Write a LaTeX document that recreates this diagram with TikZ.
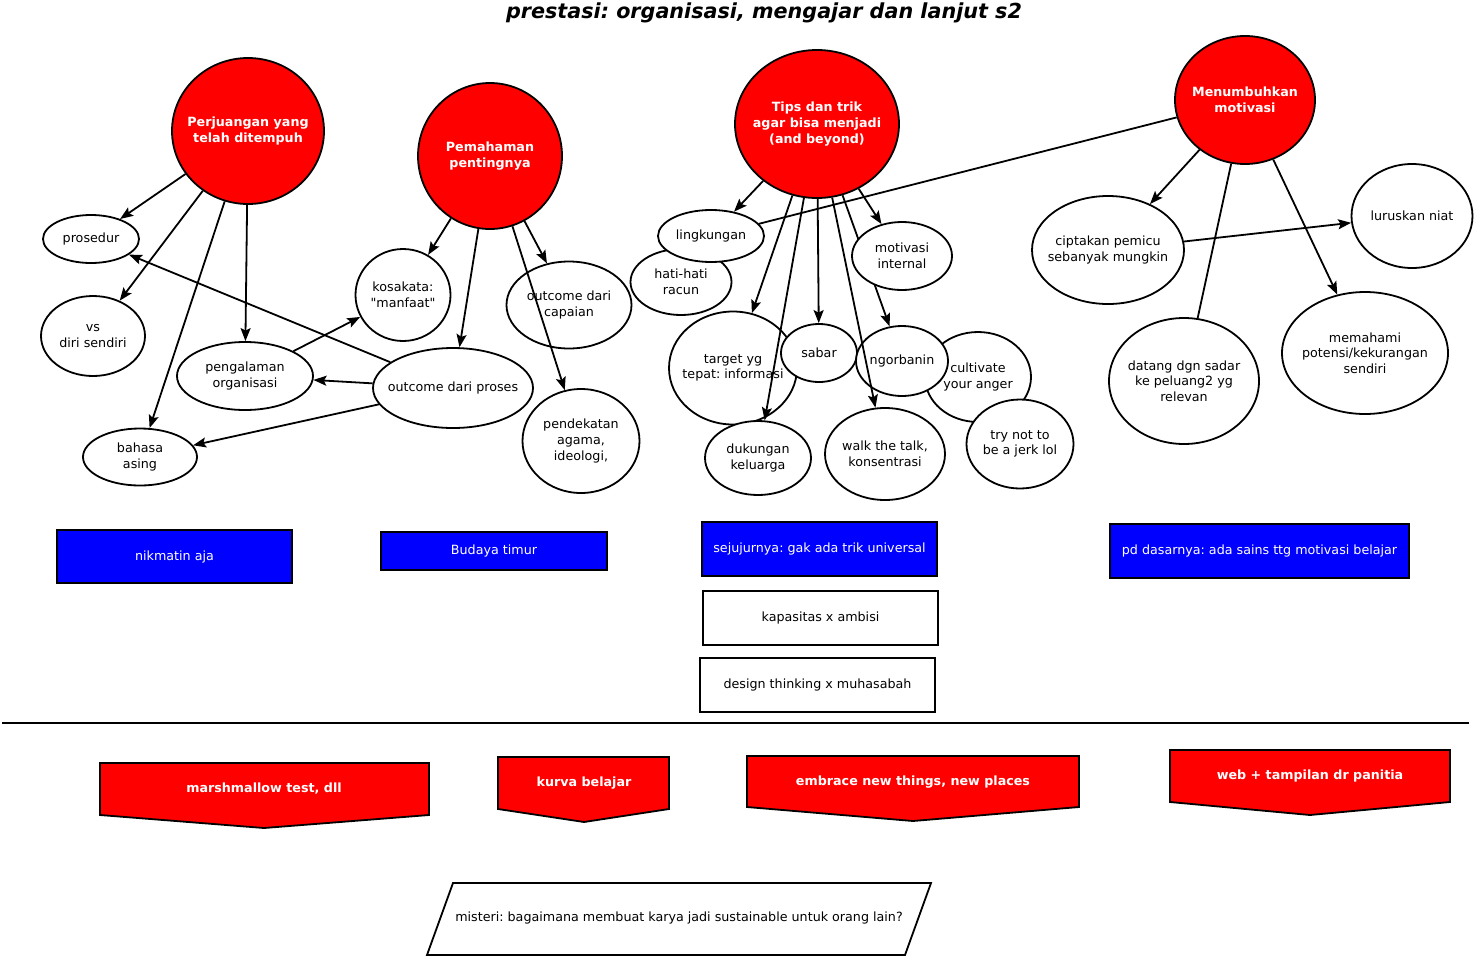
\documentclass[tikz,border=0pt]{standalone}
\usepackage{fontspec}
\setmainfont{DejaVu Sans}
\newfontfamily\qfont{DejaVu Sans}
\usetikzlibrary{shapes.geometric,arrows.meta}
\pgfdeclarelayer{bg}
\pgfsetlayers{bg,main}
\frenchspacing
\begin{document}
\frenchspacing
\begin{tikzpicture}[x=1pt,y=-1pt,
  every node/.style={font=\fontsize{12.7}{15.6}\selectfont},
  ell/.style={ellipse, draw, fill=white, line width=1.8pt, inner sep=0pt},
  rell/.style={ell, fill=red},
  txt/.style={align=center, inner sep=0pt, text=black},
  rtxt/.style={align=center, inner sep=0pt, text=white, font=\fontsize{12.7}{15.6}\selectfont\bfseries},
  bbox/.style={rectangle, draw, line width=1.8pt, fill=blue, text=white, inner sep=0pt},
  wbox/.style={rectangle, draw, line width=1.8pt, fill=white, text=black, inner sep=0pt},
  pent/.style={draw, line width=1.8pt, fill=red},
  arr/.style={line width=1.8pt, -{Stealth[length=13pt,width=10pt,inset=2.5pt]}},
  ln/.style={line width=1.8pt}
]
\useasboundingbox (0,0) rectangle (1475,956);

% title
\node[font=\fontsize{20.7}{24}\selectfont\bfseries\itshape] (title) at (764,13) {prestasi: organisasi, mengajar dan lanjut s2};

% main red nodes
\node[rell, minimum width=152pt, minimum height=146pt, label={[rtxt]center:{Perjuangan yang\\telah ditempuh}}] (perj) at (248,131) {};
\node[rell, minimum width=144pt, minimum height=146pt, label={[rtxt]center:{Pemahaman\\pentingnya}}] (pem) at (490,156) {};
\node[rell, minimum width=164pt, minimum height=148pt, label={[rtxt]center:{Tips dan trik\\agar bisa menjadi\\(and beyond)}}] (tips) at (817,124) {};
\node[rell, minimum width=140pt, minimum height=128pt, label={[rtxt]center:{Menumbuhkan\\motivasi}}] (menu) at (1245,100) {};

% left group
\node[ell, minimum width=96pt, minimum height=48pt, label={[txt]center:{prosedur}}] (pros) at (91,239) {};
\node[ell, minimum width=104pt, minimum height=80pt, label={[txt]center:{vs\\diri sendiri}}] (vs) at (93,336) {};
\node[ell, minimum width=114pt, minimum height=57pt, label={[txt]center:{bahasa\\asing}}] (bah) at (140,457) {};
\node[ell, minimum width=136pt, minimum height=68pt, label={[txt]center:{pengalaman\\organisasi}}] (peng) at (245,376) {};
\node[ell, minimum width=95pt, minimum height=92pt, label={[txt]center:{kosakata:\\{\qfont"manfaat"}}}] (kos) at (403,295) {};
\node[ell, minimum width=160pt, minimum height=80pt, label={[txt]center:{outcome dari proses}}] (outp) at (453,388) {};
\node[ell, minimum width=125pt, minimum height=87pt, label={[txt]center:{outcome dari\\capaian}}] (outc) at (569,305) {};
\node[ell, minimum width=117pt, minimum height=104pt, label={[txt]center:{pendekatan\\agama,\\ideologi,}}] (pend) at (581,441) {};

% tips group
\node[ell, minimum width=101pt, minimum height=66pt, label={[txt]center:{hati-hati\\racun}}] (hati) at (681,282) {};
\node[ell, minimum width=106pt, minimum height=52pt, label={[txt]center:{lingkungan}}] (lingk) at (711,236) {};
\node[ell, minimum width=128pt, minimum height=113pt, label={[txt]center:{target yg\\tepat: informasi}}] (targ) at (733,368) {};
\node[ell, minimum width=76pt, minimum height=58pt, label={[txt]center:{sabar}}] (sabar) at (819,353) {};
\node[ell, minimum width=106pt, minimum height=74pt, label={[txt]center:{dukungan\\keluarga}}] (duk) at (758,458) {};
\node[ell, minimum width=106pt, minimum height=90pt, label={[txt]center:{cultivate\\your anger}}] (cult) at (978,377) {};
\node[ell, minimum width=107pt, minimum height=89pt, label={[txt]center:{try not to\\be a jerk lol}}] (tryn) at (1020,444) {};
\node[ell, minimum width=92pt, minimum height=70pt, label={[txt]center:{ngorbanin}}] (ngor) at (902,361) {};
\node[ell, minimum width=120pt, minimum height=92pt, label={[txt]center:{walk the talk,\\konsentrasi}}] (walk) at (885,454) {};
\node[ell, minimum width=100pt, minimum height=68pt, label={[txt]center:{motivasi\\internal}}] (motiv) at (902,256) {};

% motivasi group
\node[ell, minimum width=152pt, minimum height=108pt, label={[txt]center:{ciptakan pemicu\\sebanyak mungkin}}] (cipt) at (1108,250) {};
\node[ell, minimum width=121pt, minimum height=104pt, label={[txt]center:{luruskan niat}}] (luru) at (1412,216) {};
\node[ell, minimum width=150pt, minimum height=126pt, label={[txt]center:{datang dgn sadar\\ke peluang2 yg\\relevan}}] (dat) at (1184,381) {};
\node[ell, minimum width=166pt, minimum height=122pt, label={[txt]center:{memahami\\potensi/kekurangan\\sendiri}}] (mem) at (1365,353) {};

% edges
\draw[arr] (perj) -- (pros);
\draw[arr] (perj) -- (vs);
\draw[arr] (perj) -- (bah);
\draw[arr] (perj) -- (peng);
\draw[arr] (pem) -- (kos);
\draw[arr] (pem) -- (outp);
\draw[arr] (pem) -- (outc);
\draw[arr] (pem) -- (pend);
\draw[arr] (outp) -- (pros);
\draw[arr] (outp) -- (peng);
\draw[arr] (outp) -- (bah);
\draw[arr] (peng) -- (kos);

\draw[arr] (tips) -- (lingk);
\draw[arr] (tips) -- (targ);
\draw[arr] (tips) -- (duk);
\draw[arr] (tips) -- (sabar);
\draw[arr] (tips) -- (walk);
\draw[arr] (tips) -- (motiv);
\begin{pgfonlayer}{bg}
\draw[arr] (tips) -- (ngor);
\end{pgfonlayer}

\draw[ln] (menu) -- (lingk);
\draw[arr] (menu) -- (cipt);
\draw[ln] (menu) -- (dat);
\draw[arr] (menu) -- (mem);
\draw[arr] (cipt) -- (luru);

% boxes
\node[bbox, minimum width=235pt, minimum height=53pt] (nik) at (174.5,556.5) {nikmatin aja};
\node[bbox, minimum width=226pt, minimum height=38pt] (bud) at (494,551) {Budaya timur};
\node[bbox, minimum width=235pt, minimum height=54pt] (sej) at (819.5,549) {sejujurnya: gak ada trik universal};
\node[bbox, minimum width=299pt, minimum height=54pt] (pdd) at (1259.5,551) {pd dasarnya: ada sains ttg motivasi belajar};
\node[wbox, minimum width=235pt, minimum height=54pt] (kap) at (820.5,618) {kapasitas x ambisi};
\node[wbox, minimum width=235pt, minimum height=54pt] (des) at (817.5,685) {design thinking x muhasabah};

% separator
\draw[line width=1.8pt] (2,723) -- (1469,723);

% pentagons
\draw[pent] (100,763) -- (429,763) -- (429,815) -- (264,828) -- (100,815) -- cycle;
\node[rtxt] (mar) at (264,789) {marshmallow test, dll};
\draw[pent] (498,757) -- (669,757) -- (669,809) -- (584,822) -- (498,809) -- cycle;
\node[rtxt] (kur) at (584,783) {kurva belajar};
\draw[pent] (747,756) -- (1079,756) -- (1079,807) -- (913,821) -- (747,807) -- cycle;
\node[rtxt] (emb) at (913,782) {embrace new things, new places};
\draw[pent] (1170,750) -- (1450,750) -- (1450,802) -- (1310,815) -- (1170,802) -- cycle;
\node[rtxt] (web) at (1310,776) {web + tampilan dr panitia};

% parallelogram
\draw[line width=1.8pt, fill=white] (453,883) -- (931,883) -- (905,955) -- (427,955) -- cycle;
\node[txt] (mis) at (679,918) {misteri: bagaimana membuat karya jadi sustainable untuk orang lain?};
\end{tikzpicture}
\end{document}
